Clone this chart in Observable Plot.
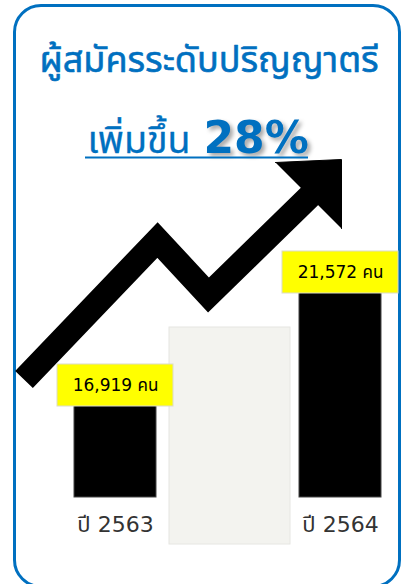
<!DOCTYPE html>
<html><head><meta charset="utf-8">
<script src="https://cdn.jsdelivr.net/npm/d3@7"></script>
<script src="https://cdn.jsdelivr.net/npm/@observablehq/plot@0.6"></script>
<style>
html,body{margin:0;padding:0;background:#fff;}
#wrap{position:relative;width:403px;height:584px;overflow:hidden;background:#fff;}
.abs{position:absolute;}
#frame{left:13px;top:4px;width:388px;height:584px;border:3px solid #0070c0;border-radius:28px;box-sizing:border-box;}
#deco,#chart{left:0;top:0;}
</style></head>
<body><div id="wrap">
<div id="frame" class="abs"></div>
<div id="deco" class="abs"></div>
<div id="chart" class="abs"></div>
</div>
<script>
// ---- data ----
const years = ["2563", "2564"];
const yearLabels = ["ปี 2563", "ปี 2564"];
const applicants = [16919, 21572];
const unit = "คน";
const titleText = "ผู้สมัครระดับปริญญาตรี";
const changeLabel = "เพิ่มขึ้น";
const changePct = "28%";

// ---- decorative drawing (in drawing units) ----
const arrowShaftX = [23.5, 157, 208, 312];
const arrowShaftY = [379, 239.5, 294.5, 193];
const arrowHeadX = [275, 341, 341];
const arrowHeadY = [162, 159, 228];
const panelX = [169, 290];
const panelY = [327, 544];
const underlineX = [85, 308];
const underlineY = [157];

const THAI = '"Noto Sans Thai","Tahoma","Noto Sans",sans-serif';
const FONT = '"DejaVu Sans","Noto Sans Thai","Noto Sans",sans-serif';
const BLUE = "#0070c0";
const yFloor = 12678;

const arrowShaft = arrowShaftX.map((x, i) => ({x, y: arrowShaftY[i]}));
const arrowHead = arrowHeadX.map((x, i) => ({x, y: arrowHeadY[i]}));
const panel = [{x1: panelX[0], x2: panelX[1], y1: panelY[0], y2: panelY[1]}];
const data = years.map((year, i) => ({year, value: applicants[i]}));

const deco = Plot.plot({
  width: 403, height: 584, margin: 0,
  style: {background: "transparent"},
  x: {domain: [0, 403], range: [0, 403], axis: null},
  y: {domain: [0, 584], range: [0, 584], axis: null},
  marks: [
    Plot.rect(panel, {x1: "x1", x2: "x2", y1: "y1", y2: "y2", fill: "#f3f3ef", stroke: "#e6e6e2"}),
    Plot.line(arrowShaft, {x: "x", y: "y", stroke: "black", strokeWidth: 24.5, strokeLinejoin: "miter", strokeLinecap: "butt", strokeMiterlimit: 4}),
    Plot.line(arrowHead, {x: "x", y: "y", fill: "black", stroke: "black", strokeWidth: 1}),
    // title
    Plot.text([titleText], {x: 208.5, y: 71, text: d => d, textAnchor: "middle", lineAnchor: "bottom",
      fontSize: 36, fontFamily: THAI, fill: BLUE, stroke: BLUE, strokeWidth: 0.6}),
    // subtitle
    Plot.text([changeLabel], {x: 87, y: 152.5, text: d => d, textAnchor: "start", lineAnchor: "bottom",
      fontSize: 37.5, fontFamily: THAI, fill: BLUE, stroke: BLUE, strokeWidth: 0.3}),
    Plot.text([changePct], {x: 203, y: 152.5, text: d => d, textAnchor: "start", lineAnchor: "bottom",
      fontSize: 44, fontWeight: "bold", fontFamily: '"DejaVu Sans",sans-serif', fill: BLUE,
      imageFilter: "drop-shadow(3px 3px 2px rgba(0,0,0,0.35))"}),
    Plot.ruleY(underlineY, {x1: underlineX[0], x2: underlineX[1], stroke: BLUE, strokeWidth: 2})
  ]
});
document.getElementById("deco").appendChild(deco);

const chart = Plot.plot({
  width: 403, height: 584,
  marginTop: 0, marginLeft: 0, marginRight: 0, marginBottom: 87,
  style: {background: "transparent", fontFamily: FONT},
  x: {type: "band", domain: years, range: [74, 381.5], paddingInner: 0.636, paddingOuter: 0, axis: null},
  y: {domain: [yFloor, 21572], range: [497, 281], axis: null},
  marks: [
    Plot.barY(data, {x: "year", y1: yFloor, y2: "value", fill: "black", stroke: "#444", strokeWidth: 1}),
    Plot.barY(data, {x: "year", y1: "value", y2: "value", insetTop: -30, insetBottom: -12, insetLeft: -17, insetRight: -17, fill: "#ffff00", stroke: "#dcdcc8", strokeWidth: 1}),
    Plot.text(data, {x: "year", y: "value", text: d => d.value.toLocaleString("en-US") + " " + unit, dy: -9, fontSize: 17, fill: "black"}),
    Plot.axisX({label: null, tickSize: 0, tickPadding: 19, fontSize: 22, fill: "#333", tickFormat: d => yearLabels[years.indexOf(d)]})
  ]
});
document.getElementById("chart").appendChild(chart);
</script>
</body></html>
